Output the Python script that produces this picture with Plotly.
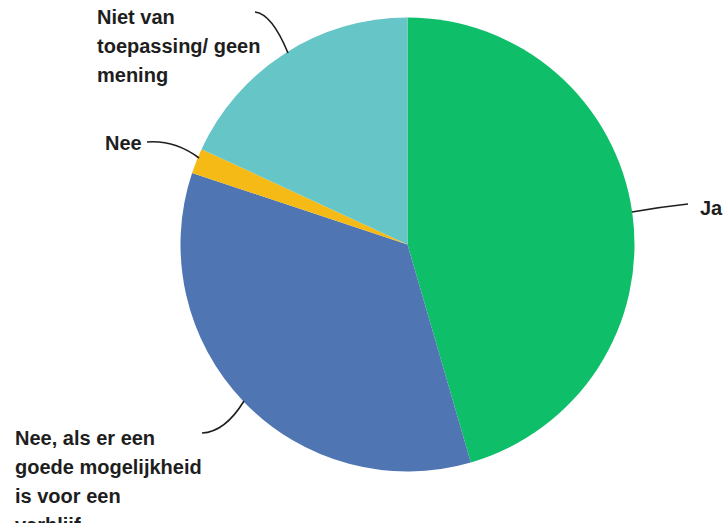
import plotly.graph_objects as go

W, H = 727, 523

categories = ["Ja", "Nee, als er een goede mogelijkheid is voor een verblijf", "Nee", "Niet van toepassing/ geen mening"]
values = [45.5, 34.6, 1.8, 18.1]
colors = ["#0ebe69", "#4f76b3", "#f6ba16", "#66c5c6"]

# label text lines (as drawn next to the pie)
label_ja = ["Ja"]
label_nee = ["Nee"]
label_niet = ["Niet van", "toepassing/ geen", "mening"]
label_neeals = ["Nee, als er een", "goede mogelijkheid", "is voor een", "verblijf"]


def px(x):
    return x / W


def py(y):
    return 1 - y / H


fig = go.Figure()
cx, cy, r = 407.5, 244.5, 227
fig.add_trace(go.Pie(
    labels=categories,
    values=values,
    marker=dict(colors=colors, line=dict(width=0)),
    sort=False,
    direction="clockwise",
    rotation=0,
    textinfo="none",
    hoverinfo="label+percent",
    showlegend=False,
    domain=dict(x=[px(cx - r), px(cx + r)], y=[py(cy + r), py(cy - r)]),
))

annotations = []


def add_lines(lines, x, y0, step=29):
    for i, t in enumerate(lines):
        annotations.append(dict(
            text=f"<b>{t}</b>", x=px(x), y=py(y0 + i * step), xref="paper", yref="paper",
            xanchor="left", yanchor="middle", showarrow=False,
            font=dict(family="Liberation Sans, Arial, sans-serif", size=20, color="#1e1e1e"),
        ))


add_lines(label_niet, 95, 17)
add_lines(label_nee, 103, 143)
add_lines(label_ja, 698, 208)
add_lines(label_neeals, 13, 438)


def path(pts):
    (x0, y0), (qx, qy), (x1, y1) = pts
    return f"M {px(x0)},{py(y0)} Q {px(qx)},{py(qy)} {px(x1)},{py(y1)}"


leaders = [
    [(632, 212), (660, 207), (688, 204)],
    [(288, 53), (272, 14), (255, 12)],
    [(147, 142), (175, 140), (199, 158)],
    [(244, 401), (225, 432), (202, 433)],
]
shapes = [dict(type="path", path=path(p), xref="paper", yref="paper",
               line=dict(color="#1e1e1e", width=1.6)) for p in leaders]

fig.update_layout(
    width=W, height=H,
    margin=dict(l=0, r=0, t=0, b=0),
    paper_bgcolor="white", plot_bgcolor="white",
    annotations=annotations,
    shapes=shapes,
)

fig.write_html(
    "out.html",
    config={"displayModeBar": False},
    post_script="document.body.style.margin='0';document.body.style.overflow='hidden';",
)
